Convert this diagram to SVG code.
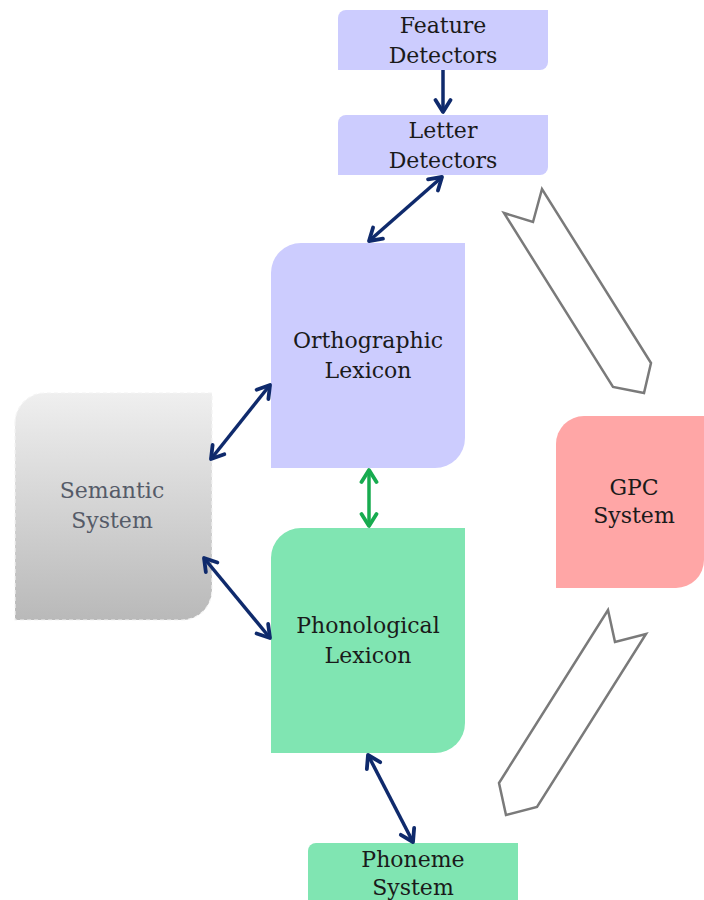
<svg xmlns="http://www.w3.org/2000/svg" width="704" height="900" viewBox="0 0 704 900">
<style>
.lbl{font-family:"DejaVu Serif","Liberation Serif",serif;font-size:22px;fill:#1a1a1a;text-anchor:middle}
.sem{fill:#555b68}
.lav{fill:#ccccfe}
.grn{fill:#80e5b2}
.blk{fill:#ffffff;stroke:#7a7a7a;stroke-width:2.5;stroke-linejoin:miter}
.con{fill:none;stroke:#0f2a6c;stroke-width:3.5}
.cong{fill:none;stroke:#17ab4f;stroke-width:3.5}
</style>
<defs>
<linearGradient id="gsem" x1="0" y1="0" x2="0" y2="1">
<stop offset="0" stop-color="#efefef"/>
<stop offset="1" stop-color="#b9b9b9"/>
</linearGradient>
<marker id="ah" viewBox="0 0 18 20" refX="15" refY="10" markerWidth="18" markerHeight="20" markerUnits="userSpaceOnUse" orient="auto-start-reverse">
<path d="M3,2.5 L15,10 L3,17.5" fill="none" stroke="#0f2a6c" stroke-width="3.8" stroke-linecap="round" stroke-linejoin="round"/>
</marker>
<marker id="ahg" viewBox="0 0 18 20" refX="15" refY="10" markerWidth="18" markerHeight="20" markerUnits="userSpaceOnUse" orient="auto-start-reverse">
<path d="M3,2.5 L15,10 L3,17.5" fill="none" stroke="#17ab4f" stroke-width="3.8" stroke-linecap="round" stroke-linejoin="round"/>
</marker>
</defs>

<g id="gpc-arrow-upper">
<polygon class="blk" points="504,213 533,222 542,189 651,363 644,393 613,387"/>
</g>
<g id="gpc-arrow-lower">
<polygon class="blk" points="608,610 615,642 646,634 537,807 506,815 499,783"/>
</g>

<g id="feature-detectors">
<path class="lav" d="M338,18 A8,8 0 0 1 346,10 H548 V62 A8,8 0 0 1 540,70 H338 Z"/>
<text class="lbl" x="443" y="33">Feature</text>
<text class="lbl" x="443" y="63">Detectors</text>
</g>

<g id="letter-detectors">
<path class="lav" d="M338,123 A8,8 0 0 1 346,115 H548 V167 A8,8 0 0 1 540,175 H338 Z"/>
<text class="lbl" x="443" y="138">Letter</text>
<text class="lbl" x="443" y="168">Detectors</text>
</g>

<g id="orthographic-lexicon">
<path class="lav" d="M271,273 A30,30 0 0 1 301,243 H465 V438 A30,30 0 0 1 435,468 H271 Z"/>
<text class="lbl" x="368" y="348">Orthographic</text>
<text class="lbl" x="368" y="378">Lexicon</text>
</g>

<g id="phonological-lexicon">
<path class="grn" d="M271,558 A30,30 0 0 1 301,528 H465 V723 A30,30 0 0 1 435,753 H271 Z"/>
<text class="lbl" x="368" y="633">Phonological</text>
<text class="lbl" x="368" y="663">Lexicon</text>
</g>

<g id="semantic-system">
<path d="M15,423 A30,30 0 0 1 45,393 H212 V590 A30,30 0 0 1 182,620 H15 Z" fill="url(#gsem)" stroke="#f4f4f4" stroke-width="1.2" stroke-dasharray="4,3"/>
<text class="lbl sem" x="112" y="498">Semantic</text>
<text class="lbl sem" x="112" y="528">System</text>
</g>

<g id="gpc-system">
<path d="M556,444 A28,28 0 0 1 584,416 H704 V560 A28,28 0 0 1 676,588 H556 Z" fill="#ffa6a6"/>
<text class="lbl" x="634" y="495">GPC</text>
<text class="lbl" x="634" y="523">System</text>
</g>

<g id="phoneme-system">
<path class="grn" d="M308,851 A8,8 0 0 1 316,843 H518 V910 H308 Z"/>
<text class="lbl" x="413" y="867">Phoneme</text>
<text class="lbl" x="413" y="895">System</text>
</g>

<g id="connectors">
<line class="con" x1="443" y1="70" x2="443" y2="112" marker-end="url(#ah)"/>
<line class="con" x1="442" y1="177" x2="369" y2="241" marker-start="url(#ah)" marker-end="url(#ah)"/>
<line class="con" x1="270" y1="385" x2="211" y2="459" marker-start="url(#ah)" marker-end="url(#ah)"/>
<line class="con" x1="204" y1="558" x2="270" y2="638" marker-start="url(#ah)" marker-end="url(#ah)"/>
<line class="cong" x1="369" y1="470" x2="369" y2="526" marker-start="url(#ahg)" marker-end="url(#ahg)"/>
<line class="con" x1="368" y1="755" x2="413" y2="842" marker-start="url(#ah)" marker-end="url(#ah)"/>
</g>
</svg>
